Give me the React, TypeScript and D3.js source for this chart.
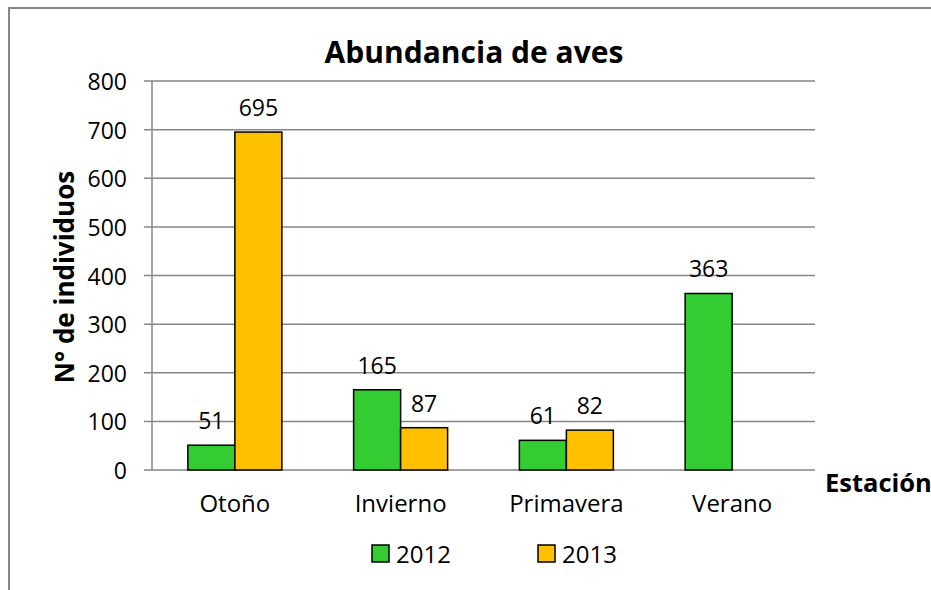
import React from "react";
import * as d3 from "d3";

const seasons = ["Otoño", "Invierno", "Primavera", "Verano"];
const years = ["2012", "2013"];
const values2012 = [51, 165, 61, 363];
const values2013: (number | null)[] = [695, 87, 82, null];
const yTicks = [0, 100, 200, 300, 400, 500, 600, 700, 800];
const colors = ["#33CC33", "#FFC000"];

const FONT = "'Open Sans', sans-serif";

export default function App() {
  const width = 931;
  const height = 590;
  const left = 152;
  const right = 815;
  const top = 81;
  const bottom = 470;

  const x = d3.scaleBand<string>().domain(seasons).range([left, right]);
  const inner = d3
    .scaleBand<string>()
    .domain(years)
    .range([0, 94])
    .padding(0);
  const y = d3.scaleLinear().domain([0, 800]).range([bottom, top]);
  const series = [values2012, values2013];

  return (
    <svg
      width={width}
      height={height}
      style={{ position: "absolute", left: 0, top: 0 }}
      fontFamily={FONT}
    >
      <rect x={0} y={0} width={width} height={height} fill="#fff" />
      <rect
        x={9}
        y={8}
        width={width + 20}
        height={height + 20}
        fill="none"
        stroke="#868686"
        strokeWidth={2}
      />
      <text
        x={474}
        y={63}
        textAnchor="middle"
        fontSize={30}
        fontWeight="bold"
      >
        Abundancia de aves
      </text>

      {yTicks.map((t) => (
        <g key={t}>
          <line
            x1={144}
            x2={right}
            y1={y(t)}
            y2={y(t)}
            stroke="#868686"
            strokeWidth={1.5}
          />
          <text
            x={127}
            y={y(t) + 9}
            textAnchor="end"
            fontSize={23}
          >
            {t}
          </text>
        </g>
      ))}
      <line x1={left} x2={left} y1={top} y2={bottom} stroke="#868686" strokeWidth={1.5} />

      {seasons.map((s, i) => {
        const cx = (x(s) ?? 0) + x.bandwidth() / 2;
        return (
          <g key={s}>
            {series.map((vals, j) => {
              const v = vals[i];
              if (v == null) return null;
              const bx = cx - 47 + (inner(years[j]) ?? 0);
              return (
                <g key={j}>
                  <rect
                    x={bx}
                    y={y(v)}
                    width={inner.bandwidth()}
                    height={bottom - y(v)}
                    fill={colors[j]}
                    stroke="#000"
                    strokeWidth={1.5}
                  />
                  <text
                    x={bx + inner.bandwidth() / 2}
                    y={y(v) - 16}
                    textAnchor="middle"
                    fontSize={23}
                  >
                    {v}
                  </text>
                </g>
              );
            })}
            <text x={cx} y={512} textAnchor="middle" fontSize={24}>
              {s}
            </text>
          </g>
        );
      })}

      <text
        transform={`translate(74,277) rotate(-90)`}
        textAnchor="middle"
        fontSize={26}
        fontWeight="bold"
      >
        N° de individuos
      </text>
      <text x={825} y={492} fontSize={25.5} fontWeight="bold">
        Estación
      </text>

      {years.map((yr, j) => {
        const lx = j === 0 ? 372 : 538;
        return (
          <g key={yr}>
            <rect
              x={lx}
              y={545}
              width={17}
              height={17}
              fill={colors[j]}
              stroke="#000"
              strokeWidth={1.5}
            />
            <text x={lx + 24} y={563} fontSize={24}>
              {yr}
            </text>
          </g>
        );
      })}
    </svg>
  );
}
